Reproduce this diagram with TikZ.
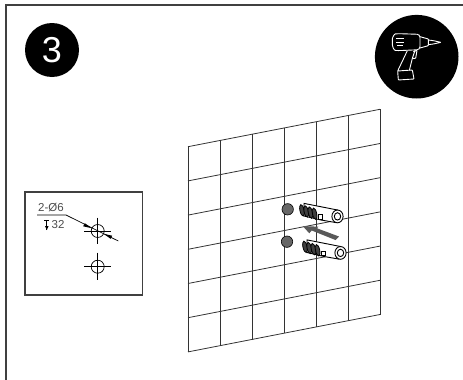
\documentclass[tikz,border=0pt]{standalone}
\usepackage{fontspec}
\setmainfont{Liberation Sans}
\usetikzlibrary{arrows.meta}
\tikzset{
  frameline/.style={black!75,line width=1.3},
  wallline/.style={black!80,line width=0.8},
  iconline/.style={white,line width=0.9,line join=round,rounded corners=0.6},
  crossline/.style={black,line width=0.7},
  dimtext/.style={inner sep=0,text=black!70,font=\fontsize{11.5}{11.5}\selectfont},
  badge/.style={circle,fill=black,inner sep=0,minimum size=54,text=white,font=\fontsize{36}{36}\selectfont},
  plughole/.style={fill=black!60,draw=black,line width=0.6},
  plugline/.style={draw=black,line width=0.9,fill=white}
}
\begin{document}
\begin{tikzpicture}[x=1pt,y=-1pt]
  \useasboundingbox (0,0) rectangle (463,380);
  % sheet edges
  \draw[frameline] (6,380)--(6,5)--(463,5);
  % step number and tool
  \node[badge] (stepnum) at (52,50) {3};
  \fill[black] (416.7,56.7) circle (41.8);
  \begin{scope}[shift={(370,10)},x=0.3333pt,y=-0.3333pt]
    \draw[iconline,rounded corners=3] (150,73)--(85,71)..controls (72,72) and (67,84) .. (67,96)
       ..controls (67,110) and (72,121) .. (85,122)--(150,119)--cycle;
    \draw[iconline] (150,80)--(175,87)--(175,107)--(150,114);
    \draw[iconline] (175,90)--(190,92)--(213,97)--(190,102)--(175,104);
    \draw[iconline] (112,122)--(83,183)--(85,210)--(132,207)--(127,180)--(83,183);
    \draw[iconline] (135,121)--(127,145)--(118,181);
    \draw[iconline] (130,125)--(141,121)--(137,145)--(127,145);
    \foreach \yy/\xa/\xb in {86/78/103,96/78/103,106/82/100}
      \draw[iconline] (\xa,\yy)--(\xb,\yy);
  \end{scope}
  % detail box
  \draw[frameline,line width=1.1] (25,192) rectangle (142.7,295);
  \node[dimtext] (dimtop) at (51,208) {2-Ø6};
  \node[dimtext,anchor=west] (dimdepth) at (51.5,225) {32};
  \coordinate (leadstart) at (37,215);
  \coordinate (leadknee) at (66,215);
  \coordinate (leadend) at (118.3,241);
  \draw[crossline] (leadstart)--(leadknee)--(leadend);
  \fill[black] (91.7,228.2)--(83.2,226.3)--(84.8,223.2)--cycle;
  \fill[black] (103.7,233.8)--(112.2,235.7)--(110.6,238.8)--cycle;
  \draw[crossline] (44.3,220.3)--(49.3,220.3) (46.8,220.3)--(46.8,229.5);
  \fill[black] (45,226)--(48.6,226)--(46.8,230)--cycle;
  \foreach \yy/\ya/\yb in {231/217.7/243.5,266.7/252.7/280}{
    \draw[crossline] (97.7,\yy) circle (6.5);
    \draw[crossline] (84.3,\yy)--(111,\yy) (97.7,\ya)--(97.7,\yb);
  }
  % wall grid
  \foreach \i in {0,...,6}{
    \pgfmathsetmacro{\xx}{188+\i*32}
    \pgfmathsetmacro{\ya}{146.7-\i*6.28}
    \pgfmathsetmacro{\yb}{352-\i*6.17}
    \draw[wallline] (\xx,\ya)--(\xx,\yb);
    \pgfmathsetmacro{\yl}{146.7+\i*34.2}
    \pgfmathsetmacro{\yr}{109.3+\i*34.2}
    \draw[wallline] (188,\yl)--(380,\yr);
  }
  % holes
  \draw[plughole] (287.7,209.3) circle (5.7);
  \draw[plughole] (287,241.7) circle (5.7);
  % plugs
  \foreach \dx/\dy in {0/0,3/36.5}{
    \begin{scope}[shift={(\dx,\dy)}]
      \draw[plugline] (304,203.4)--(337.5,210)--(336,222.6)--(321,220)--(304,216)--cycle;
      \draw[plugline,line width=0.7] (318,214.5) rectangle (322,219);
      \foreach \i in {0,...,3}
        \draw[black,line width=0.8,fill=black!75,rotate around={12:(302+\i*4.2,210.3+\i*1.15)}]
          (302+\i*4.2,210.3+\i*1.15) ellipse (2.1 and 5.8);
      \draw[plugline] (337.5,216.4) ellipse (5.6 and 6.4);
      \draw[plugline] (337.5,216.4) ellipse (3.2 and 3.7);
    \end{scope}
  }
  % insertion arrow
  \fill[black!65] (302.7,226)--(318.3,226.7)--(317,228.3)--(339,236.5)--(335.5,240)--(311.7,230.5)--(309.3,233.3)--cycle;
\end{tikzpicture}
\end{document}
